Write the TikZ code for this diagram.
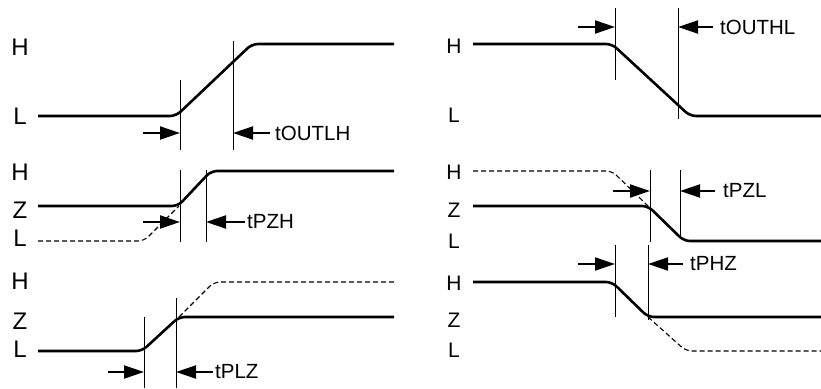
\documentclass[tikz,border=0pt]{standalone}
\usepackage{fontspec}
\setmainfont{Liberation Sans}
\usetikzlibrary{arrows.meta,positioning}

\begin{document}
\begin{tikzpicture}[x=1pt,y=-1pt]
    \tikzstyle{level_big}=[inner sep=0pt,font=\fontsize{24}{24}\selectfont]
    \tikzstyle{level_small}=[inner sep=0pt,font=\fontsize{21}{21}\selectfont]
    \tikzstyle{time_label}=[inner sep=0pt,anchor=west,font=\fontsize{20.5}{20.5}\selectfont]
    \tikzstyle{signal}=[line width=2.6pt,rounded corners=6pt]
    \tikzstyle{float_signal}=[line width=1.1pt,dash pattern=on 5pt off 3pt,rounded corners=6pt]
    \tikzstyle{mark_line}=[line width=0.9pt]
    \tikzstyle{delay}=[line width=2pt,-{Triangle[length=20pt,width=13pt]}]
    \useasboundingbox (0,0) rectangle (821,388);

    % top left: tOUTLH
    \node[level_big] (hA) at (20,47)  {H};
    \node[level_big] (lA) at (20,116) {L};
    \draw[signal] (38,116) -- (176,116) -- (252,44) -- (394,44);
    \coordinate (mA1) at (180,80);  \coordinate (bA1) at (180,150);
    \coordinate (mA2) at (233,41);  \coordinate (bA2) at (233,150);
    \draw[mark_line] (mA1) -- (bA1) (mA2) -- (bA2);
    \node[time_label] (tA) at (275,133) {tOUTLH};
    \coordinate (sA1) at (143,133); \coordinate (sA2) at (270,133);
    \draw[delay] (sA1) -- (sA1 -| mA1);
    \draw[delay] (sA2) -- (sA2 -| mA2);

    % top right: tOUTHL
    \node[level_small] (hB) at (454,46)  {H};
    \node[level_small] (lB) at (454,115) {L};
    \draw[signal] (473,44) -- (612,44) -- (690,116) -- (821,116);
    \coordinate (mB1) at (615,8);  \coordinate (bB1) at (615,80);
    \coordinate (mB2) at (678,8);  \coordinate (bB2) at (678,119);
    \draw[mark_line] (mB1) -- (bB1) (mB2) -- (bB2);
    \node[time_label] (tB) at (720,27) {tOUTHL};
    \coordinate (sB1) at (578,27); \coordinate (sB2) at (713,27);
    \draw[delay] (sB1) -- (sB1 -| mB1);
    \draw[delay] (sB2) -- (sB2 -| mB2);

    % middle left: tPZH
    \node[level_big] (hC) at (20,172) {H};
    \node[level_big] (zC) at (20,210) {Z};
    \node[level_big] (lC) at (20,238) {L};
    \draw[float_signal] (38,241) -- (144,241) -- (179,206);
    \draw[signal] (38,206) -- (178,206) -- (211,171) -- (394,171);
    \coordinate (mC1) at (180,170);  \coordinate (bC1) at (180,242);
    \coordinate (mC2) at (206,170);  \coordinate (bC2) at (206,242);
    \draw[mark_line] (mC1) -- (bC1) (mC2) -- (bC2);
    \node[time_label] (tC) at (247,222) {tPZH};
    \coordinate (sC1) at (143,222); \coordinate (sC2) at (245,222);
    \draw[delay] (sC1) -- (sC1 -| mC1);
    \draw[delay] (sC2) -- (sC2 -| mC2);

    % middle right: tPZL
    \node[level_small] (hD) at (454,172) {H};
    \node[level_small] (zD) at (454,210) {Z};
    \node[level_small] (lD) at (454,241) {L};
    \draw[float_signal] (473,171) -- (612,171) -- (648,206);
    \draw[signal] (473,206) -- (648,206) -- (684,241) -- (821,241);
    \coordinate (mD1) at (650,170);  \coordinate (bD1) at (650,242);
    \coordinate (mD2) at (680,170);  \coordinate (bD2) at (680,238);
    \draw[mark_line] (mD1) -- (bD1) (mD2) -- (bD2);
    \node[time_label] (tD) at (723,191) {tPZL};
    \coordinate (sD1) at (613,191); \coordinate (sD2) at (715,191);
    \draw[delay] (sD1) -- (sD1 -| mD1);
    \draw[delay] (sD2) -- (sD2 -| mD2);

    % bottom left: tPLZ
    \node[level_big] (hE) at (20,281) {H};
    \node[level_big] (zE) at (20,321) {Z};
    \node[level_big] (lE) at (20,349) {L};
    \draw[signal] (38,351) -- (142,351) -- (179,317) -- (394,317);
    \draw[float_signal] (179,317) -- (214,282) -- (394,282);
    \coordinate (mE1) at (144,317);  \coordinate (bE1) at (144,388);
    \coordinate (mE2) at (176,298);  \coordinate (bE2) at (176,388);
    \draw[mark_line] (mE1) -- (bE1) (mE2) -- (bE2);
    \node[time_label] (tE) at (215,372) {tPLZ};
    \coordinate (sE1) at (108,372); \coordinate (sE2) at (213,372);
    \draw[delay] (sE1) -- (sE1 -| mE1);
    \draw[delay] (sE2) -- (sE2 -| mE2);

    % bottom right: tPHZ
    \node[level_small] (hF) at (454,283) {H};
    \node[level_small] (zF) at (454,320) {Z};
    \node[level_small] (lF) at (454,350) {L};
    \draw[signal] (473,282) -- (612,282) -- (648,317) -- (821,317);
    \draw[float_signal] (648,317) -- (686,351) -- (821,351);
    \coordinate (mF1) at (615,245);  \coordinate (bF1) at (615,317);
    \coordinate (mF2) at (648,245);  \coordinate (bF2) at (648,320);
    \draw[mark_line] (mF1) -- (bF1) (mF2) -- (bF2);
    \node[time_label] (tF) at (690,264) {tPHZ};
    \coordinate (sF1) at (578,264); \coordinate (sF2) at (683,264);
    \draw[delay] (sF1) -- (sF1 -| mF1);
    \draw[delay] (sF2) -- (sF2 -| mF2);

\end{tikzpicture}
\end{document}
